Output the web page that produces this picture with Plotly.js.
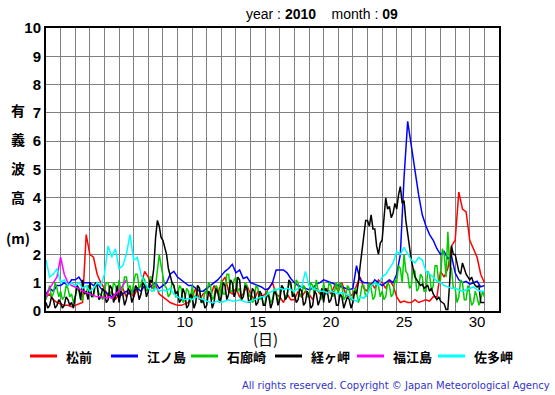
<!DOCTYPE html>
<html>
<head>
<meta charset="utf-8">
<script src="https://cdn.plot.ly/plotly-3.0.1.min.js"></script>
<style>
html,body{margin:0;padding:0;background:#fff;}
#chart{width:555px;height:395px;}
</style>
</head>
<body>
<div id="chart"></div>
<script>
// ---- data ----
const seriesNames = ["松前", "江ノ島", "石廊崎", "経ヶ岬", "福江島", "佐多岬"];
const seriesColors = ["#ff0000", "#0000ff", "#00cc00", "#000000", "#ff00ff", "#00ffff"];
const dayTickLabels = ["5", "10", "15", "20", "25", "30"];
const yTickLabels = ["0","1","2","3","4","5","6","7","8","9","10"];

// 6-hourly values (day 1 00h .. day 31 00h)
const matsumae = [
0.5,0.6,0.4,0.3, 0.25,0.2,0.2,0.15, 0.2,0.25,0.3,2.7, 2.0,1.9,1.3,1.0,
0.8,0.5,0.7,0.4, 0.6,0.8,0.5,0.7, 0.5,0.8,0.9,1.4, 1.2,0.8,0.9,0.6,
0.5,0.4,0.3,0.25, 0.2,0.2,0.25,0.3, 0.5,0.8,0.4,0.6, 0.7,0.5,0.9,0.6,
1.0,1.2,0.7,0.6, 0.8,0.5,0.6,0.9, 0.6,0.4,0.7,0.5, 0.6,0.8,1.0,0.6,
0.5,0.3,0.6,0.4, 0.4,0.7,0.5,0.7, 0.6,0.4,0.8,0.6, 0.5,0.8,0.6,0.9,
0.7,1.0,0.6,0.5, 0.6,0.9,1.2,0.8, 0.7,1.0,0.8,1.1, 1.0,0.8,1.1,0.9,
0.5,0.3,0.35,0.3, 0.3,0.4,0.3,0.35, 0.4,0.35,0.5,0.5, 1.4,1.2,1.5,2.3,
2.5,4.2,3.6,3.5, 2.5,2.2,1.9,1.3, 1.0];

const enoshima = [
0.6,0.8,0.7,0.9, 0.9,1.0,0.9,1.1, 1.1,1.2,1.0,1.0, 1.0,0.9,1.0,0.8,
0.7,0.6,0.5,0.6, 0.5,0.6,0.7,0.6, 0.7,0.8,0.7,0.9, 0.8,0.9,1.0,0.8,
0.9,1.0,1.3,1.4, 1.2,1.1,1.0,0.9, 0.9,0.8,0.7,0.7, 0.8,0.9,1.0,1.1,
1.25,1.4,1.5,1.65, 1.35,1.45,1.15,1.2, 1.0,0.95,0.9,0.85, 0.75,0.8,1.0,1.45,
1.45,1.45,1.35,1.15, 1.0,0.9,0.85,0.8, 0.75,0.8,0.95,1.0, 1.1,1.05,1.0,0.95,
0.9,0.85,0.8,0.75, 0.8,1.6,1.1,1.0, 1.0,0.9,1.1,1.0, 0.9,1.0,1.1,1.0,
1.3,2.0,4.7,6.7, 5.8,5.0,4.1,3.4, 3.0,2.7,2.5,2.2, 2.0,2.1,1.85,1.95,
1.35,1.1,1.0,1.05, 0.95,1.0,1.05,0.85, 0.9];

// 3-hourly values (day 1 00h .. day 31 00h)
const irozaki = [
0.4,0.7,0.9,0.5,0.6,1.0,0.8,0.5, 0.7,0.4,0.5,0.9,0.8,0.5,0.6,0.3,
0.5,0.8,0.7,0.4,0.4,0.7,0.6,0.9, 0.8,0.5,0.5,0.9,0.9,0.6,0.6,0.4,
0.7,1.0,1.0,0.6,0.6,1.0,0.9,0.6, 1.1,0.7,0.8,1.2,1.2,0.8,0.9,0.6,
1.0,1.3,1.3,0.8,0.9,1.2,1.1,0.7, 0.8,1.2,1.2,0.7,0.9,1.4,2.0,1.6,
1.3,0.9,0.8,0.5,0.6,1.0,0.9,0.5, 0.5,0.9,0.8,0.3,0.4,0.8,0.7,0.3,
0.9,0.5,0.5,0.9,0.8,0.3,0.3,0.7, 0.6,1.0,0.9,0.4,0.5,0.9,0.8,0.4,
1.1,0.6,0.6,1.3,1.3,0.7,0.7,1.1, 1.2,0.7,0.8,0.4,0.5,1.0,0.9,0.5,
0.6,0.3,0.4,0.9,0.8,0.4,0.5,0.2, 0.3,0.7,0.6,0.3,0.4,0.8,0.7,0.3,
0.5,0.9,0.8,0.4,0.6,1.0,0.9,0.5, 0.7,1.1,1.0,0.5,0.6,0.9,0.8,0.5,
0.5,1.0,0.9,0.6,1.1,0.7,0.7,0.4, 1.0,0.6,0.6,1.0,0.9,0.5,0.7,1.0,
0.6,1.0,0.9,0.4,0.5,0.9,0.8,0.4, 0.4,0.8,0.7,0.3,0.5,0.9,0.9,0.5,
0.6,1.0,0.8,0.4,0.5,1.0,0.9,0.5, 0.7,0.4,0.5,1.0,0.9,0.5,0.6,1.1,
1.0,1.6,1.5,1.0,2.0,1.4,1.3,0.8, 0.9,1.5,1.4,0.7,0.8,1.3,1.2,0.7,
0.7,1.4,1.3,0.7,0.9,1.6,1.6,1.0, 1.1,2.2,2.0,1.2,2.8,1.6,1.5,0.8,
0.8,0.3,0.5,1.1,1.0,0.4,0.4,0.9, 0.6,0.2,0.3,0.7,0.5,0.2,0.4,0.7,
0.5];

const kyogamisaki = [
0.3,0.1,0.2,0.5,0.4,0.1,0.2,0.4, 0.3,0.1,0.2,0.5,0.4,0.2,0.3,0.1,
0.5,0.9,0.8,0.4,1.1,0.6,0.7,0.4, 1.0,0.5,0.6,1.0,0.9,0.4,0.5,0.8,
0.7,0.3,0.4,0.9,0.8,0.3,0.5,0.9, 0.3,0.7,0.6,0.2,0.4,0.8,0.7,0.3,
0.5,0.9,0.8,0.4,0.6,1.0,0.9,0.5, 0.7,1.1,1.0,1.5,2.6,3.2,3.0,2.6,
2.5,2.2,2.0,1.5,1.2,1.0,0.9,0.6, 0.7,0.3,0.4,0.8,0.6,0.1,0.2,0.6,
0.5,0.1,0.3,0.9,0.8,0.3,0.4,0.1, 0.2,0.7,0.6,0.1,0.3,0.8,0.7,0.3,
0.5,1.0,0.9,0.4,0.6,1.1,1.0,0.5, 0.7,1.2,1.1,0.4,0.5,0.9,0.8,0.3,
0.4,0.8,0.7,0.2,0.3,0.7,0.6,0.2, 0.2,0.6,0.5,0.1,0.3,0.7,0.6,0.2,
0.4,0.9,0.8,0.4,0.5,1.1,1.0,0.5, 0.6,0.3,0.4,0.8,0.7,0.2,0.3,0.7,
0.5,0.1,0.2,0.7,0.6,0.2,0.4,0.8, 0.3,0.8,0.7,0.3,0.4,0.7,0.6,0.2,
0.2,0.6,0.5,0.1,0.3,0.5,0.4,0.1, 0.3,0.7,0.6,1.0,1.6,2.2,2.6,3.2,
3.2,3.0,3.4,2.9,2.9,2.3,2.0,2.4, 2.5,3.4,4.0,3.6,3.7,3.3,3.45,3.8,
3.6,4.1,4.4,3.8,3.9,3.2,2.7,2.2, 1.8,1.5,1.2,1.1,1.0,0.9,0.95,0.8,
0.85,0.9,0.7,0.8,0.6,0.5,0.4,0.5, 0.35,0.3,0.25,0.05,0.05,1.0,2.3,2.0,
2.0,1.7,1.4,1.3,1.7,1.5,1.3,1.2, 1.1,1.2,1.0,0.9,0.85,0.9,0.3,0.3,
0.3];

// 6-hourly, station only reported days 1-6
const fukuejima = [
0.5,0.8,1.0,1.2, 1.9,1.3,1.0,0.9, 0.85,0.8,0.7,0.65, 0.6,0.55,0.5,0.5,
0.45,0.5,0.45,0.6, 0.7,0.9,1.1];

const satamisaki = [
1.8,1.2,1.3,1.5, 1.0,1.1,0.9,1.0, 0.9,1.0,0.8,0.9, 0.7,0.8,1.0,0.9,
1.3,2.3,1.9,2.2, 1.5,1.6,2.0,2.7, 1.8,1.9,1.3,1.0, 0.8,0.7,0.8,0.7,
0.75,0.7,0.8,0.6, 0.5,0.45,0.4,0.45, 0.4,0.5,0.45,0.4, 0.35,0.3,0.3,0.35,
0.3,0.35,0.4,0.35, 0.35,0.4,0.35,0.3, 0.35,0.4,0.45,0.5, 0.5,0.65,0.7,0.75,
0.8,0.75,0.8,0.75, 0.7,0.8,0.85,1.4, 0.9,0.8,0.75,0.7, 0.7,0.65,0.7,0.65,
0.6,0.65,0.6,0.55, 0.4,0.35,0.5,0.45, 0.6,0.9,1.0,0.9, 1.2,1.3,1.5,1.7,
2.1,2.0,2.25,2.0, 1.8,1.7,1.9,1.8, 1.4,1.3,1.2,1.05, 1.0,0.9,0.85,0.8,
0.8,0.75,0.7,0.75, 0.8,0.85,0.75,0.7, 0.7];

const allSeries = [matsumae, enoshima, irozaki, kyogamisaki, fukuejima, satamisaki];
const stepsPerDay = [4, 4, 8, 8, 4, 4];

const traces = allSeries.map((vals, k) => ({
  x: vals.map((_, i) => 1 + i / stepsPerDay[k]), y: vals,
  type: 'scatter', mode: 'lines', name: seriesNames[k],
  line: {color: seriesColors[k], width: 1.5},
  xaxis: 'x', yaxis: 'y', showlegend: false, hoverinfo: 'skip'
}));
traces.push({x: [1, 32], y: [null, null], xaxis: 'x2', yaxis: 'y', mode: 'lines', showlegend: false, hoverinfo: 'skip'});

const tickPos = dayTickLabels.map(s => Number(s) + 0.5);

const annotations = [];
const shapes = [];
annotations.push({xref: 'paper', yref: 'paper', x: 0.61, y: 1.0, yshift: 14, xanchor: 'center', yanchor: 'middle',
  text: 'year : <b>2010</b>&nbsp;&nbsp;&nbsp;&nbsp;month : <b>09</b>', showarrow: false,
  font: {family: 'Liberation Sans, Arial', size: 14, color: '#000'}});
const yTitleChars = ['有', '義', '波', '高', '(m)'];
const yTitlePix = [110, 139, 168, 197, 238];
yTitleChars.forEach((c, i) => {
  annotations.push({xref: 'paper', yref: 'paper', x: (18 - 46) / 453, y: (311 - yTitlePix[i]) / 283,
    xanchor: 'center', yanchor: 'middle', text: c, showarrow: false,
    font: {family: 'Noto Sans CJK JP', size: 14, color: '#000', weight: 'bold'}});
});
annotations.push({xref: 'paper', yref: 'paper', x: (265 - 46) / 453, y: -(338 - 311) / 283,
  xanchor: 'center', yanchor: 'middle', text: '(日)', showarrow: false,
  font: {family: 'Noto Sans CJK JP', size: 15, color: '#000'}});
const legLineX = [30, 111, 191, 275, 357, 438];
seriesNames.forEach((n, k) => {
  const x0 = legLineX[k];
  shapes.push({type: 'line', xref: 'paper', yref: 'paper',
    x0: (x0 - 46) / 453, x1: (x0 + 27 - 46) / 453, y0: -(356 - 311) / 283, y1: -(356 - 311) / 283,
    line: {color: seriesColors[k], width: 3}});
  annotations.push({xref: 'paper', yref: 'paper', x: (x0 + 34 - 46) / 453, y: -(356 - 311) / 283,
    xanchor: 'left', yanchor: 'middle', text: n, showarrow: false,
    font: {family: 'Noto Sans CJK JP', size: 13, color: '#000', weight: 'bold'}});
});
annotations.push({xref: 'paper', yref: 'paper', x: (552 - 46) / 453, y: -(385 - 311) / 283,
  xanchor: 'right', yanchor: 'middle', text: 'All rights reserved. Copyright © Japan Meteorological Agency',
  showarrow: false, font: {family: 'DejaVu Sans, Liberation Sans', size: 10, color: '#3333cc'}});

const layout = {
  width: 555, height: 395,
  margin: {l: 46, r: 56, t: 28, b: 84, pad: 0},
  paper_bgcolor: '#ffffff', plot_bgcolor: '#ffffff',
  showlegend: false,
  xaxis: {range: [1, 32], tickmode: 'linear', tick0: 1, dtick: 1, showticklabels: false,
    showgrid: true, gridcolor: '#808080', gridwidth: 1, zeroline: false,
    showline: true, mirror: true, linecolor: '#000', linewidth: 2, ticks: ''},
  xaxis2: {overlaying: 'x', anchor: 'y', side: 'bottom', range: [1, 32],
    tickmode: 'array', tickvals: tickPos, ticktext: dayTickLabels,
    showgrid: false, zeroline: false, showline: false, ticks: '',
    tickfont: {family: 'Liberation Sans, Arial', size: 15, color: '#000'}},
  yaxis: {range: [0, 10], tickmode: 'array', tickvals: yTickLabels.map(Number), ticktext: yTickLabels,
    showgrid: true, gridcolor: '#808080', gridwidth: 1, zeroline: false,
    showline: true, mirror: true, linecolor: '#000', linewidth: 2, ticks: '',
    tickfont: {family: 'Liberation Sans, Arial', size: 15, color: '#000', weight: 'bold'}},
  annotations: annotations,
  shapes: shapes
};

Plotly.newPlot('chart', traces, layout, {staticPlot: true, displayModeBar: false});
</script>
</body>
</html>
